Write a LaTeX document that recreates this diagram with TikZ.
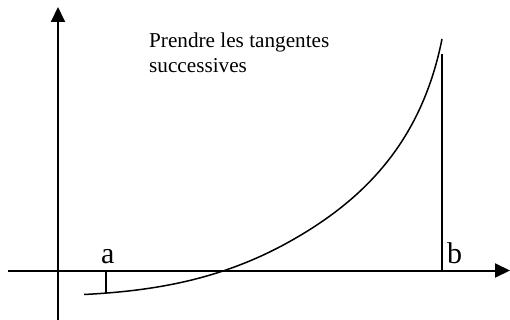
\documentclass[tikz,border=0pt]{standalone}
\usepackage{fontspec}
\setmainfont{Liberation Serif}
\usetikzlibrary{arrows.meta}
\begin{document}
\begin{tikzpicture}[x=1pt,y=-1pt,
  axis/.style={line width=2pt,-{Triangle[length=15pt,width=14pt]}},
  curve/.style={line width=1.5pt},
  tickline/.style={line width=1.5pt},
  bline/.style={line width=2pt},
  lbl/.style={font=\fontsize{30}{36}\selectfont, anchor=base west, inner sep=0pt},
  txt/.style={font=\fontsize{21.2}{25}\selectfont, anchor=base west, inner sep=0pt, align=left}]
\useasboundingbox (0,0) rectangle (510,320);
\coordinate (xl) at (8,270.5);
\coordinate (xr) at (510,270.5);
\coordinate (yb) at (58,320);
\coordinate (yt) at (58,7);
\draw[axis] (xl) -- (xr);
\draw[axis] (yb) -- (yt);
\coordinate (fa) at (106,293.5);
\coordinate (ta) at (106,270.5);
\coordinate (fb) at (442,54);
\coordinate (tb) at (442,270.5);
\coordinate (c0) at (84,294.5);
\coordinate (c1) at (287,243);
\coordinate (c2) at (442,39);
\draw[curve] (c0) .. controls (152,291) and (219,280.4) .. (c1)
  .. controls (367,199) and (422,139) .. (c2);
\draw[tickline] (ta) -- (fa);
\draw[bline] (tb) -- (fb);
\node[lbl] (a) at (101,263) {a};
\node[lbl] (b) at (447,263) {b};
\node[txt] (t) at (149,73) {Prendre les tangentes\\successives};
\end{tikzpicture}
\end{document}
